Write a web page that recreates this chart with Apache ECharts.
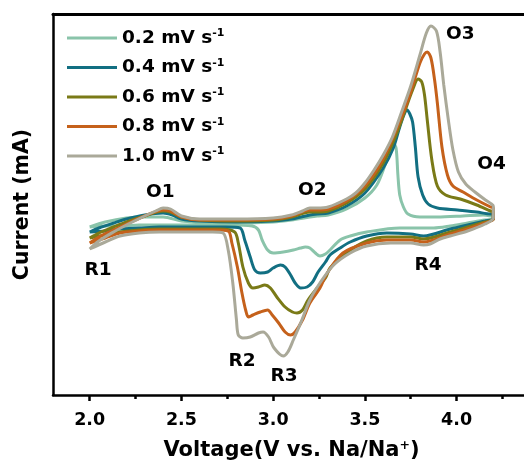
<!DOCTYPE html>
<html>
<head>
<meta charset="utf-8">
<script src="https://cdn.jsdelivr.net/npm/echarts@6/dist/echarts.min.js"></script>
<style>
  html, body { margin: 0; padding: 0; background: #fff; overflow: hidden; }
  #cv { width: 530px; height: 471px; }
</style>
</head>
<body>
<div id="cv"></div>
<script>
// Cyclic voltammograms at five scan rates: [voltage (V), current (mA)]
const scanRates = ['0.2', '0.4', '0.6', '0.8', '1.0'];
const lineColors = ['#8ac4aa', '#126f82', '#7a7a17', '#c5611b', '#aaa999'];

// axis ticks
const majorTicks = [2.0, 2.5, 3.0, 3.5, 4.0];
const minorTicks = [2.25, 2.75, 3.25, 3.75, 4.25];

// peak names and where they are written
const peakNames = ['O1', 'O2', 'O3', 'O4', 'R1', 'R2', 'R3', 'R4'];
const peakAnchors = [[2.385, 0.22], [3.213, 0.24], [4.02, 1.80], [4.19, 0.50],
                     [2.045, -0.56], [2.83, -1.47], [3.06, -1.62], [3.845, -0.51]];

// 0.2 mV/s
const anodic02 = [[2.00,-0.13],[2.085,-0.08],[2.20,-0.04],[2.30,-0.03],[2.40,-0.03],[2.50,-0.07],[2.60,-0.08],[2.80,-0.09],[3.00,-0.08],[3.10,-0.06],[3.20,-0.03],[3.24,-0.02],[3.30,-0.01],[3.40,0.05],[3.50,0.16],[3.565,0.29],[3.61,0.49],[3.64,0.64],[3.655,0.71],[3.67,0.66],[3.68,0.39],[3.69,0.19],[3.71,0.07],[3.735,0.00],[3.80,-0.03],[3.895,-0.03],[4.035,-0.02],[4.145,-0.01],[4.185,-0.02],[4.20,-0.03]];
const cathodic02 = [[4.20,-0.05],[4.155,-0.06],[4.06,-0.09],[3.965,-0.12],[3.875,-0.14],[3.69,-0.14],[3.51,-0.18],[3.42,-0.22],[3.365,-0.26],[3.31,-0.36],[3.285,-0.40],[3.255,-0.42],[3.23,-0.39],[3.20,-0.34],[3.175,-0.33],[3.15,-0.34],[3.11,-0.36],[3.055,-0.38],[3.00,-0.39],[2.97,-0.36],[2.94,-0.26],[2.92,-0.16],[2.885,-0.12],[2.765,-0.11],[2.55,-0.11],[2.38,-0.11],[2.27,-0.11],[2.165,-0.12],[2.085,-0.12],[2.00,-0.13]];

// 0.4 mV/s
const anodic04 = [[2.00,-0.18],[2.05,-0.14],[2.13,-0.09],[2.20,-0.05],[2.30,-0.01],[2.40,0.01],[2.45,-0.01],[2.50,-0.05],[2.60,-0.07],[2.80,-0.08],[3.00,-0.07],[3.10,-0.05],[3.20,-0.01],[3.24,0.00],[3.30,0.01],[3.40,0.08],[3.50,0.21],[3.60,0.46],[3.655,0.66],[3.69,0.87],[3.715,1.00],[3.73,1.04],[3.745,1.00],[3.76,0.92],[3.775,0.67],[3.79,0.37],[3.815,0.19],[3.845,0.10],[3.895,0.06],[4.005,0.04],[4.11,0.02],[4.185,0.00],[4.20,0.00]];
const cathodic04 = [[4.20,-0.05],[4.155,-0.07],[4.06,-0.11],[3.965,-0.15],[3.82,-0.22],[3.75,-0.20],[3.62,-0.19],[3.51,-0.22],[3.42,-0.28],[3.365,-0.34],[3.31,-0.41],[3.285,-0.48],[3.245,-0.58],[3.215,-0.68],[3.185,-0.73],[3.15,-0.74],[3.12,-0.69],[3.095,-0.61],[3.065,-0.53],[3.04,-0.51],[3.00,-0.54],[2.97,-0.58],[2.93,-0.59],[2.90,-0.56],[2.875,-0.43],[2.845,-0.26],[2.82,-0.14],[2.74,-0.13],[2.55,-0.13],[2.38,-0.13],[2.27,-0.14],[2.165,-0.15],[2.085,-0.17],[2.00,-0.18]];

// 0.6 mV/s
const anodic06 = [[2.00,-0.24],[2.05,-0.19],[2.13,-0.13],[2.20,-0.08],[2.30,-0.02],[2.40,0.03],[2.44,0.02],[2.50,-0.03],[2.60,-0.06],[2.80,-0.07],[3.00,-0.06],[3.10,-0.03],[3.20,0.02],[3.24,0.02],[3.30,0.03],[3.40,0.11],[3.50,0.25],[3.60,0.51],[3.67,0.79],[3.72,1.04],[3.76,1.24],[3.79,1.35],[3.81,1.32],[3.825,1.19],[3.84,0.94],[3.865,0.54],[3.895,0.28],[3.94,0.19],[4.02,0.15],[4.11,0.09],[4.185,0.03],[4.20,0.02]];
const cathodic06 = [[4.20,-0.05],[4.155,-0.08],[4.06,-0.13],[3.965,-0.18],[3.82,-0.25],[3.75,-0.23],[3.62,-0.23],[3.51,-0.27],[3.39,-0.40],[3.31,-0.54],[3.285,-0.64],[3.24,-0.74],[3.19,-0.86],[3.16,-0.96],[3.13,-0.99],[3.105,-0.98],[3.065,-0.93],[3.02,-0.83],[2.985,-0.74],[2.955,-0.71],[2.92,-0.73],[2.89,-0.74],[2.865,-0.69],[2.835,-0.53],[2.81,-0.29],[2.79,-0.18],[2.71,-0.15],[2.55,-0.15],[2.38,-0.15],[2.27,-0.16],[2.165,-0.18],[2.085,-0.21],[2.00,-0.24]];

// 0.8 mV/s
const anodic08 = [[2.00,-0.29],[2.05,-0.23],[2.13,-0.16],[2.20,-0.10],[2.30,-0.02],[2.40,0.04],[2.44,0.03],[2.50,-0.03],[2.60,-0.06],[2.80,-0.06],[3.00,-0.05],[3.10,-0.02],[3.20,0.04],[3.24,0.04],[3.30,0.05],[3.40,0.13],[3.50,0.28],[3.60,0.55],[3.70,0.97],[3.75,1.22],[3.80,1.51],[3.825,1.60],[3.84,1.62],[3.86,1.56],[3.88,1.34],[3.895,1.11],[3.92,0.67],[3.95,0.39],[3.98,0.28],[4.035,0.22],[4.11,0.14],[4.185,0.07],[4.20,0.06]];
const cathodic08 = [[4.20,-0.05],[4.155,-0.09],[4.06,-0.15],[3.965,-0.20],[3.82,-0.28],[3.75,-0.26],[3.62,-0.26],[3.51,-0.29],[3.38,-0.39],[3.295,-0.59],[3.255,-0.74],[3.20,-0.89],[3.16,-1.06],[3.12,-1.18],[3.095,-1.21],[3.065,-1.18],[3.03,-1.09],[2.995,-1.01],[2.97,-0.96],[2.93,-0.98],[2.89,-1.01],[2.865,-1.03],[2.85,-0.96],[2.83,-0.79],[2.805,-0.53],[2.775,-0.29],[2.755,-0.17],[2.685,-0.16],[2.55,-0.16],[2.38,-0.16],[2.27,-0.17],[2.165,-0.19],[2.085,-0.24],[2.00,-0.29]];

// 1.0 mV/s
const anodic10 = [[2.00,-0.35],[2.05,-0.27],[2.13,-0.18],[2.20,-0.11],[2.30,-0.02],[2.36,0.03],[2.40,0.06],[2.44,0.05],[2.50,-0.02],[2.60,-0.05],[2.80,-0.05],[3.00,-0.04],[3.10,-0.01],[3.16,0.03],[3.20,0.06],[3.24,0.06],[3.30,0.07],[3.40,0.15],[3.45,0.21],[3.50,0.31],[3.55,0.44],[3.60,0.59],[3.65,0.77],[3.70,1.02],[3.75,1.28],[3.80,1.59],[3.835,1.81],[3.86,1.88],[3.89,1.83],[3.91,1.62],[3.93,1.29],[3.955,0.94],[3.98,0.64],[4.01,0.42],[4.05,0.30],[4.10,0.22],[4.15,0.15],[4.19,0.10],[4.20,0.08]];
const cathodic10 = [[4.20,-0.04],[4.155,-0.10],[4.06,-0.17],[3.965,-0.22],[3.91,-0.25],[3.855,-0.30],[3.82,-0.31],[3.75,-0.29],[3.64,-0.29],[3.51,-0.32],[3.42,-0.39],[3.33,-0.51],[3.255,-0.69],[3.20,-0.86],[3.15,-1.09],[3.11,-1.26],[3.08,-1.38],[3.055,-1.42],[3.005,-1.34],[2.975,-1.23],[2.945,-1.18],[2.92,-1.19],[2.875,-1.23],[2.835,-1.24],[2.81,-1.21],[2.80,-1.06],[2.78,-0.69],[2.755,-0.36],[2.727,-0.19],[2.67,-0.18],[2.55,-0.18],[2.38,-0.18],[2.27,-0.19],[2.165,-0.22],[2.085,-0.28],[2.00,-0.35]];

const loops = [
  anodic02.concat(cathodic02),
  anodic04.concat(cathodic04),
  anodic06.concat(cathodic06),
  anodic08.concat(cathodic08),
  anodic10.concat(cathodic10)
];

const FONT = 'DejaVu Sans';
const seriesNames = scanRates.map(r => r + ' mV s-1');

const chart = echarts.init(document.getElementById('cv'), null, { renderer: 'canvas' });

const curveSeries = loops.map((pts, i) => ({
  name: seriesNames[i],
  type: 'line',
  data: pts,
  showSymbol: false,
  symbol: 'none',
  smooth: 0.3,
  lineStyle: { width: 3, color: lineColors[i] },
  itemStyle: { color: lineColors[i] },
  emphasis: { disabled: true },
  z: 2 + i
}));

const labelRich = {
  a: { fontFamily: FONT, fontWeight: 'bold', fontSize: 18.5, lineHeight: 20, color: '#000' },
  s: { fontFamily: FONT, fontWeight: 'bold', fontSize: 11, lineHeight: 12, verticalAlign: 'top', color: '#000' }
};

const frameLine = { color: '#000', width: 2.5 };

chart.setOption({
  animation: false,
  color: lineColors,
  grid: { left: 53, top: 14, right: 0, bottom: 76, show: false },
  legend: {
    data: seriesNames,
    orient: 'vertical',
    left: 67,
    top: 28,
    padding: 0,
    icon: 'rect',
    itemWidth: 50,
    itemHeight: 3,
    itemGap: 10,
    selectedMode: false,
    formatter: name => '{a|' + name.replace(' mV s-1', ' mV s') + '}{s|-1}',
    textStyle: { rich: labelRich }
  },
  xAxis: [
    {
      type: 'value', min: 1.8, max: 4.4, position: 'bottom',
      axisLine: { show: true, onZero: false, lineStyle: frameLine },
      axisTick: { show: true, customValues: majorTicks, length: 6, lineStyle: frameLine },
      axisLabel: {
        customValues: majorTicks,
        formatter: v => v.toFixed(1),
        margin: 16,
        fontFamily: FONT, fontWeight: 'bold', fontSize: 17.5, color: '#000'
      },
      splitLine: { show: false },
      name: '{a|Voltage(V vs. Na/Na}{s|+}{a|)}',
      nameLocation: 'middle',
      nameGap: 44,
      nameTextStyle: {
        rich: {
          a: { fontFamily: FONT, fontWeight: 'bold', fontSize: 21, lineHeight: 24, color: '#000' },
          s: { fontFamily: FONT, fontWeight: 'bold', fontSize: 12.5, lineHeight: 13, verticalAlign: 'top', color: '#000' }
        }
      }
    },
    {
      type: 'value', min: 1.8, max: 4.4, position: 'bottom', gridIndex: 0,
      axisLine: { show: false, onZero: false },
      axisTick: { show: true, customValues: minorTicks, length: 4, lineStyle: frameLine },
      axisLabel: { show: false },
      splitLine: { show: false }
    },
    {
      type: 'value', min: 1.8, max: 4.4, position: 'top', gridIndex: 0,
      axisLine: { show: true, onZero: false, lineStyle: { color: '#000', width: 3 } },
      axisTick: { show: false },
      axisLabel: { show: false },
      splitLine: { show: false }
    }
  ],
  yAxis: {
    type: 'value', min: -1.81, max: 2.0,
    axisLine: { show: true, onZero: false, lineStyle: frameLine },
    axisTick: { show: false },
    axisLabel: { show: false },
    splitLine: { show: false },
    name: 'Current (mA)',
    nameLocation: 'middle',
    nameGap: 20,
    nameTextStyle: { fontFamily: FONT, fontWeight: 'bold', fontSize: 20.5, color: '#000' }
  },
  series: curveSeries
});

// peak labels placed through the value axes
chart.setOption({
  graphic: peakNames.map((n, i) => {
    const p = chart.convertToPixel({ xAxisIndex: 0, yAxisIndex: 0 }, peakAnchors[i]);
    return {
      type: 'text',
      x: p[0],
      y: p[1],
      silent: true,
      z: 100,
      style: {
        text: n,
        fill: '#000',
        fontFamily: FONT,
        fontWeight: 'bold',
        fontSize: 18.5,
        align: 'center',
        verticalAlign: 'middle'
      }
    };
  })
});
</script>
</body>
</html>
